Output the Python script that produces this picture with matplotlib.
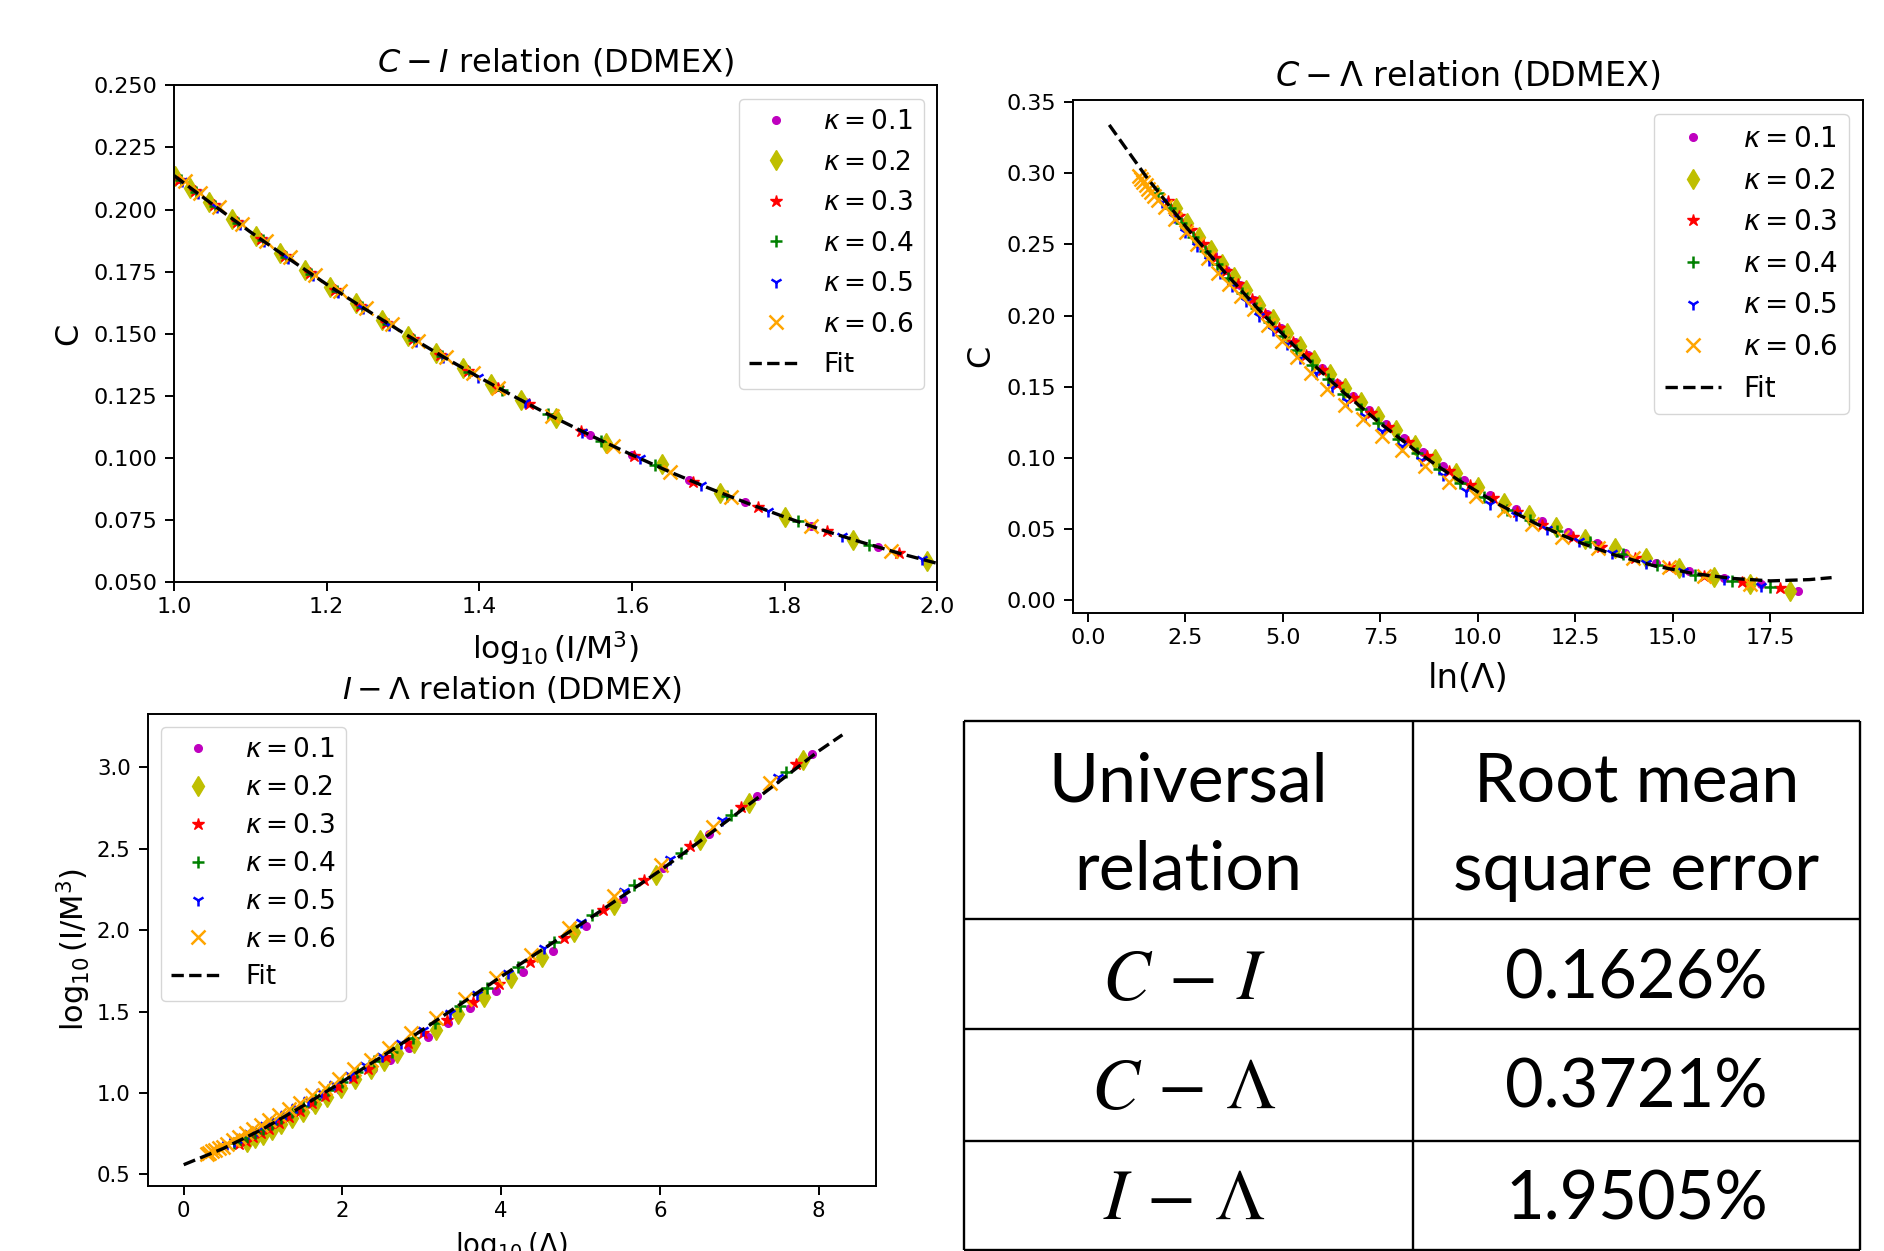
import matplotlib
matplotlib.use('Agg')
import matplotlib.pyplot as plt
from matplotlib.ticker import FormatStrFormatter, MultipleLocator

W, H, DPI = 1884, 1251, 100

# ---------------- data ----------------
kappa_labels = [r'$\kappa=0.1$', r'$\kappa=0.2$', r'$\kappa=0.3$',
                r'$\kappa=0.4$', r'$\kappa=0.5$', r'$\kappa=0.6$']

# Panel 1: C - I   (x = log10(I/M^3), y = C)
ci_x_01 = [1.005, 1.025, 1.05, 1.08, 1.112, 1.143, 1.176, 1.209, 1.242, 1.276, 1.311, 1.347, 1.383, 1.42, 1.46, 1.50, 1.545, 1.60, 1.675, 1.748, 1.835, 1.922]
ci_y_01 = [0.2125, 0.2079, 0.2022, 0.1954, 0.1884, 0.1818, 0.1748, 0.1681, 0.1615, 0.1549, 0.1483, 0.1417, 0.1354, 0.1290, 0.1224, 0.1160, 0.1091, 0.1012, 0.0911, 0.0821, 0.0725, 0.0641]
ci_x_02 = [1.001, 1.021, 1.046, 1.076, 1.108, 1.139, 1.172, 1.205, 1.238, 1.272, 1.307, 1.343, 1.379, 1.415, 1.455, 1.50, 1.566, 1.64, 1.716, 1.80, 1.89, 1.987]
ci_y_02 = [0.2135, 0.2088, 0.2031, 0.1963, 0.1892, 0.1826, 0.1756, 0.1689, 0.1623, 0.1557, 0.1491, 0.1424, 0.1361, 0.1298, 0.1232, 0.1160, 0.1060, 0.0977, 0.0859, 0.0762, 0.0670, 0.0585]
ci_x_03 = [1.007, 1.027, 1.052, 1.082, 1.114, 1.145, 1.178, 1.211, 1.244, 1.278, 1.313, 1.349, 1.385, 1.425, 1.465, 1.533, 1.603, 1.68, 1.765, 1.855, 1.95]
ci_y_03 = [0.2121, 0.2075, 0.2018, 0.1950, 0.1880, 0.1814, 0.1744, 0.1677, 0.1611, 0.1545, 0.1479, 0.1413, 0.1350, 0.1282, 0.1216, 0.1109, 0.1008, 0.0904, 0.0801, 0.0704, 0.0616]
ci_x_04 = [1.009, 1.029, 1.054, 1.084, 1.116, 1.147, 1.18, 1.213, 1.246, 1.28, 1.315, 1.351, 1.387, 1.43, 1.49, 1.56, 1.63, 1.725, 1.817, 1.91]
ci_y_04 = [0.2117, 0.2071, 0.2014, 0.1946, 0.1876, 0.1810, 0.1740, 0.1673, 0.1607, 0.1541, 0.1475, 0.1409, 0.1346, 0.1273, 0.1176, 0.1069, 0.0970, 0.0848, 0.0744, 0.0651]
ci_x_05 = [1.011, 1.031, 1.056, 1.086, 1.118, 1.149, 1.182, 1.215, 1.248, 1.282, 1.317, 1.353, 1.398, 1.46, 1.535, 1.61, 1.69, 1.778, 1.875, 1.98]
ci_y_05 = [0.2113, 0.2067, 0.2010, 0.1942, 0.1872, 0.1806, 0.1736, 0.1669, 0.1603, 0.1537, 0.1471, 0.1405, 0.1327, 0.1224, 0.1106, 0.0998, 0.0892, 0.0786, 0.0685, 0.0591]
ci_x_06 = [1.014, 1.034, 1.059, 1.089, 1.121, 1.152, 1.185, 1.218, 1.251, 1.285, 1.32, 1.356, 1.392, 1.425, 1.495, 1.575, 1.65, 1.73, 1.835, 1.94]
ci_y_06 = [0.2114, 0.2068, 0.2011, 0.1943, 0.1873, 0.1807, 0.1737, 0.1670, 0.1604, 0.1538, 0.1472, 0.1406, 0.1343, 0.1282, 0.1168, 0.1047, 0.0943, 0.0842, 0.0725, 0.0625]
ci_fit_x = [1.00, 1.05, 1.10, 1.15, 1.20, 1.25, 1.30, 1.35, 1.40, 1.45, 1.50, 1.55, 1.60, 1.65, 1.70, 1.75, 1.80, 1.85, 1.90, 1.95, 2.00]
ci_fit_y = [0.2137, 0.2022, 0.1910, 0.1803, 0.1699, 0.1600, 0.1504, 0.1412, 0.1324, 0.1240, 0.1160, 0.1084, 0.1012, 0.0943, 0.0879, 0.0819, 0.0762, 0.0709, 0.0661, 0.0616, 0.0575]

# Panel 2: C - Lambda   (x = ln(Lambda), y = C)
cl_x_01 = [2.5, 2.85, 3.2, 3.55, 3.9, 4.25, 4.6, 4.95, 5.3, 5.65, 6.0, 6.4, 6.8, 7.2, 7.65, 8.1, 8.6, 9.1, 9.65, 10.3, 10.98, 11.65, 12.3, 13.06, 13.78, 14.57, 15.42, 16.3, 17.25, 18.22]
cl_y_01 = [0.2660, 0.2545, 0.2432, 0.2322, 0.2215, 0.2111, 0.2009, 0.1910, 0.1814, 0.1721, 0.1630, 0.1530, 0.1433, 0.1340, 0.1240, 0.1144, 0.1043, 0.0946, 0.0845, 0.0738, 0.0640, 0.0560, 0.0478, 0.0400, 0.0330, 0.0262, 0.0205, 0.0158, 0.0118, 0.0068]
cl_x_02 = [2.25, 2.55, 2.85, 3.15, 3.45, 3.75, 4.05, 4.4, 4.75, 5.1, 5.45, 5.8, 6.2, 6.6, 7.0, 7.45, 7.9, 8.4, 8.9, 9.45, 10.0, 10.66, 11.31, 12.0, 12.74, 13.52, 14.32, 15.17, 16.05, 16.99, 18.0]
cl_y_02 = [0.2755, 0.2654, 0.2555, 0.2458, 0.2363, 0.2271, 0.2180, 0.2077, 0.1976, 0.1879, 0.1784, 0.1692, 0.1590, 0.1491, 0.1396, 0.1294, 0.1196, 0.1093, 0.0995, 0.0894, 0.0800, 0.0681, 0.0598, 0.0519, 0.0431, 0.0367, 0.0296, 0.0228, 0.0162, 0.0114, 0.0066]
cl_x_03 = [2.05, 2.35, 2.65, 2.95, 3.25, 3.55, 3.85, 4.2, 4.55, 4.9, 5.25, 5.6, 6.0, 6.4, 6.8, 7.25, 7.7, 8.2, 8.7, 9.25, 9.8, 10.4, 11.0, 11.65, 12.43, 13.17, 14.04, 14.9, 15.81, 16.77, 17.75]
cl_y_03 = [0.2803, 0.2701, 0.2601, 0.2502, 0.2406, 0.2312, 0.2220, 0.2115, 0.2013, 0.1914, 0.1818, 0.1724, 0.1620, 0.1520, 0.1423, 0.1319, 0.1219, 0.1113, 0.1013, 0.0910, 0.0813, 0.0716, 0.0620, 0.0527, 0.0443, 0.0372, 0.0300, 0.0233, 0.0169, 0.0128, 0.0086]
cl_x_04 = [1.8, 2.1, 2.4, 2.7, 3.0, 3.3, 3.6, 3.95, 4.3, 4.65, 5.0, 5.35, 5.75, 6.15, 6.55, 7.0, 7.45, 7.95, 8.45, 9.0, 9.55, 10.15, 10.75, 11.35, 12.04, 12.87, 13.73, 14.6, 15.56, 16.51, 17.49]
cl_y_04 = [0.2860, 0.2756, 0.2654, 0.2554, 0.2456, 0.2361, 0.2267, 0.2160, 0.2056, 0.1955, 0.1856, 0.1761, 0.1655, 0.1552, 0.1453, 0.1346, 0.1244, 0.1136, 0.1033, 0.0926, 0.0827, 0.0726, 0.0636, 0.0563, 0.0491, 0.0408, 0.0329, 0.0248, 0.0181, 0.0133, 0.0093]
cl_x_05 = [1.9, 2.2, 2.5, 2.8, 3.1, 3.4, 3.7, 4.05, 4.4, 4.75, 5.1, 5.45, 5.85, 6.25, 6.65, 7.1, 7.55, 8.05, 8.55, 9.1, 9.7, 10.3, 10.98, 11.78, 12.6, 13.43, 14.32, 15.25, 16.3, 17.25]
cl_y_05 = [0.2795, 0.2692, 0.2590, 0.2491, 0.2394, 0.2299, 0.2206, 0.2100, 0.1997, 0.1896, 0.1799, 0.1704, 0.1599, 0.1497, 0.1399, 0.1293, 0.1192, 0.1085, 0.0983, 0.0878, 0.0771, 0.0680, 0.0600, 0.0503, 0.0419, 0.0336, 0.0264, 0.0205, 0.0152, 0.0100]
cl_x_06 = [1.30, 1.36, 1.42, 1.48, 1.55, 1.62, 1.70, 1.79, 1.97, 2.24, 2.52, 2.79, 3.07, 3.34, 3.62, 3.94, 4.26, 4.62, 4.99, 5.36, 5.72, 6.14, 6.59, 7.05, 7.55, 8.06, 8.65, 9.25, 9.94, 10.67, 11.4, 12.17, 13.09, 13.99, 14.9, 15.81, 16.99]
cl_y_06 = [0.2982, 0.2960, 0.2939, 0.2917, 0.2893, 0.2868, 0.2840, 0.2813, 0.2766, 0.2678, 0.2590, 0.2503, 0.2402, 0.2302, 0.2226, 0.2138, 0.2050, 0.1937, 0.1824, 0.1711, 0.1598, 0.1485, 0.1372, 0.1271, 0.1158, 0.1058, 0.0945, 0.0832, 0.0731, 0.0633, 0.0538, 0.0443, 0.0367, 0.0300, 0.0233, 0.0169, 0.0114]
cl_fit_x = [0.55, 1.5, 2.5, 3.5, 4.5, 5.5, 6.5, 7.5, 8.5, 9.5, 10.5, 11.5, 12.5, 13.5, 14.5, 15.5, 16.5, 17.5, 18.5, 19.07]
cl_fit_y = [0.3340, 0.2975, 0.2630, 0.2308, 0.2008, 0.1730, 0.1475, 0.1243, 0.1033, 0.0845, 0.0680, 0.0538, 0.0418, 0.0320, 0.0245, 0.0190, 0.0155, 0.0137, 0.0146, 0.0160]

# Panel 3: I - Lambda   (x = log10(Lambda), y = log10(I/M^3))
il_x_01 = [0.9, 1.0, 1.1, 1.22, 1.35, 1.49, 1.64, 1.8, 1.97, 2.16, 2.39, 2.60, 2.84, 3.08, 3.33, 3.61, 3.93, 4.27, 4.65, 5.07, 5.54, 6.04, 6.62, 7.23, 7.92]
il_y_01 = [0.716, 0.740, 0.768, 0.802, 0.838, 0.877, 0.922, 0.970, 1.021, 1.080, 1.145, 1.203, 1.279, 1.346, 1.432, 1.520, 1.627, 1.742, 1.875, 2.023, 2.193, 2.385, 2.590, 2.822, 3.084]
il_x_02 = [0.8, 0.9, 1.0, 1.11, 1.23, 1.36, 1.5, 1.65, 1.81, 1.98, 2.16, 2.36, 2.52, 2.69, 2.90, 3.18, 3.46, 3.78, 4.13, 4.51, 4.92, 5.42, 5.95, 6.51, 7.125, 7.81]
il_y_02 = [0.697, 0.721, 0.745, 0.776, 0.809, 0.846, 0.885, 0.930, 0.978, 1.029, 1.085, 1.147, 1.196, 1.244, 1.305, 1.387, 1.486, 1.592, 1.705, 1.838, 1.988, 2.156, 2.340, 2.555, 2.781, 3.047]
il_x_03 = [0.7, 0.78, 0.87, 0.97, 1.08, 1.2, 1.33, 1.47, 1.62, 1.78, 1.95, 2.13, 2.32, 2.55, 2.83, 3.02, 3.32, 3.64, 3.97, 4.36, 4.79, 5.28, 5.80, 6.38, 7.02, 7.71]
il_y_03 = [0.688, 0.707, 0.729, 0.753, 0.782, 0.816, 0.852, 0.892, 0.936, 0.984, 1.035, 1.090, 1.149, 1.221, 1.310, 1.367, 1.449, 1.561, 1.670, 1.803, 1.955, 2.125, 2.309, 2.520, 2.756, 3.020]
il_x_04 = [0.63, 0.71, 0.8, 0.9, 1.0, 1.11, 1.23, 1.36, 1.5, 1.65, 1.82, 2.0, 2.19, 2.4, 2.63, 2.89, 3.17, 3.48, 3.82, 4.21, 4.67, 5.15, 5.68, 6.27, 6.90, 7.59]
il_y_04 = [0.691, 0.710, 0.732, 0.756, 0.780, 0.811, 0.844, 0.881, 0.920, 0.965, 1.016, 1.070, 1.129, 1.194, 1.254, 1.336, 1.428, 1.535, 1.643, 1.777, 1.930, 2.094, 2.279, 2.477, 2.709, 2.969]
il_x_05 = [0.55, 0.63, 0.72, 0.82, 0.92, 1.03, 1.15, 1.28, 1.42, 1.57, 1.73, 1.9, 2.09, 2.29, 2.50, 2.74, 3.02, 3.35, 3.70, 4.09, 4.54, 5.01, 5.55, 6.13, 6.78, 7.49]
il_y_05 = [0.687, 0.706, 0.728, 0.752, 0.776, 0.803, 0.837, 0.873, 0.913, 0.956, 1.004, 1.055, 1.113, 1.175, 1.227, 1.305, 1.387, 1.490, 1.607, 1.736, 1.889, 2.053, 2.238, 2.436, 2.678, 2.941]
il_x_06 = [0.29, 0.32, 0.36, 0.40, 0.45, 0.50, 0.55, 0.62, 0.70, 0.78, 0.87, 0.97, 1.08, 1.2, 1.33, 1.47, 1.62, 1.78, 1.96, 2.15, 2.36, 2.59, 2.87, 3.18, 3.55, 3.94, 4.375, 4.86, 5.42, 6.01, 6.67, 7.39]
il_y_06 = [0.628, 0.634, 0.642, 0.650, 0.660, 0.670, 0.685, 0.709, 0.733, 0.755, 0.779, 0.803, 0.832, 0.866, 0.902, 0.942, 0.986, 1.034, 1.088, 1.147, 1.203, 1.279, 1.367, 1.459, 1.576, 1.705, 1.848, 2.012, 2.211, 2.402, 2.637, 2.904]
il_fit_x = [0.0, 0.5, 1.0, 1.5, 2.0, 2.5, 3.0, 3.5, 4.0, 4.5, 5.0, 5.5, 6.0, 6.5, 7.0, 7.5, 8.0, 8.3]
il_fit_y = [0.56, 0.66, 0.78, 0.92, 1.07, 1.225, 1.385, 1.55, 1.715, 1.875, 2.035, 2.20, 2.365, 2.545, 2.727, 2.912, 3.10, 3.20]

# Table
table_header = [['Universal', 'relation'], ['Root mean', 'square error']]
table_relations = [r'$C\,-\,I$', r'$C\,-\,\Lambda$', r'$I\,-\,\Lambda$']
table_rmse = ['0.1626%', '0.3721%', '1.9505%']

# ---------------- style ----------------
plt.rcParams['font.family'] = ['DejaVu Sans']
plt.rcParams['axes.linewidth'] = 1.4
plt.rcParams['mathtext.fontset'] = 'dejavusans'

series_styles = [
    dict(marker='o', color='m', ms=5.5, mew=1.0),
    dict(marker='d', color='y', ms=10.5, mew=1.0),
    dict(marker='*', color='r', ms=9, mew=1.0),
    dict(marker='+', color='g', ms=9, mew=1.8),
    dict(marker='1', color='b', ms=9, mew=1.8),
    dict(marker='x', color='orange', ms=9.5, mew=1.8),
]

fig = plt.figure(figsize=(W / DPI, H / DPI), dpi=DPI)


def px_axes(l, t, r, b):
    return fig.add_axes([l / W, 1 - b / H, (r - l) / W, (b - t) / H])


def draw_panel(ax, xs, ys, fx, fy, tick_fs, leg_fs, leg_loc, leg_sp):
    for x, y, lab, st in zip(xs, ys, kappa_labels, series_styles):
        ax.plot(x, y, linestyle='none', label=lab, **st)
    ax.plot(fx, fy, 'k--', lw=2.4, label='Fit')
    ax.tick_params(axis='both', which='major', labelsize=tick_fs,
                   length=6.2, width=1.4)
    ax.tick_params(axis='x', pad=4.7)
    ax.tick_params(axis='y', pad=6)
    ax.legend(loc=leg_loc, fontsize=leg_fs, labelspacing=leg_sp)


# Panel 1
ax1 = px_axes(174, 85.4, 937.2, 582)
draw_panel(ax1, [ci_x_01, ci_x_02, ci_x_03, ci_x_04, ci_x_05, ci_x_06],
           [ci_y_01, ci_y_02, ci_y_03, ci_y_04, ci_y_05, ci_y_06],
           ci_fit_x, ci_fit_y, 16, 19, 'upper right', 0.55)
ax1.set_xlim(1.0, 2.0)
ax1.set_ylim(0.05, 0.25)
ax1.xaxis.set_major_locator(MultipleLocator(0.2))
ax1.yaxis.set_major_locator(MultipleLocator(0.025))
ax1.xaxis.set_major_formatter(FormatStrFormatter('%.1f'))
ax1.yaxis.set_major_formatter(FormatStrFormatter('%.3f'))
ax1.set_title(r'$C-I$ relation (DDMEX)', fontsize=23, pad=10)
ax1.set_xlabel(r'$\log_{10}$(I/M$^3$)', fontsize=22.5, labelpad=9)
ax1.set_ylabel('C', fontsize=23, labelpad=6)

# Panel 2
ax2 = px_axes(1073, 100, 1862.8, 612.5)
draw_panel(ax2, [cl_x_01, cl_x_02, cl_x_03, cl_x_04, cl_x_05, cl_x_06],
           [cl_y_01, cl_y_02, cl_y_03, cl_y_04, cl_y_05, cl_y_06],
           cl_fit_x, cl_fit_y, 16, 20, 'upper right', 0.49)
ax2.set_xlim(-0.38, 19.87)
ax2.set_ylim(-0.0085, 0.3515)
ax2.xaxis.set_major_locator(MultipleLocator(2.5))
ax2.yaxis.set_major_locator(MultipleLocator(0.05))
ax2.xaxis.set_major_formatter(FormatStrFormatter('%.1f'))
ax2.yaxis.set_major_formatter(FormatStrFormatter('%.2f'))
ax2.set_title(r'$C-\Lambda$ relation (DDMEX)', fontsize=24, pad=10.3)
ax2.set_xlabel('ln(Λ)', fontsize=24.5, labelpad=10.5)
ax2.set_ylabel('C', fontsize=23, labelpad=7)

# Panel 3
ax3 = px_axes(147.6, 713.5, 875.7, 1186.2)
draw_panel(ax3, [il_x_01, il_x_02, il_x_03, il_x_04, il_x_05, il_x_06],
           [il_y_01, il_y_02, il_y_03, il_y_04, il_y_05, il_y_06],
           il_fit_x, il_fit_y, 15.3, 19, 'upper left', 0.45)
ax3.set_xlim(-0.455, 8.72)
ax3.set_ylim(0.428, 3.331)
ax3.xaxis.set_major_locator(MultipleLocator(2))
ax3.yaxis.set_major_locator(MultipleLocator(0.5))
ax3.yaxis.set_major_formatter(FormatStrFormatter('%.1f'))
ax3.set_title(r'$I-\Lambda$ relation (DDMEX)', fontsize=22, pad=10.4)
ax3.set_xlabel(r'$\log_{10}$(Λ)', fontsize=20, labelpad=6.5)
ax3.set_ylabel(r'$\log_{10}$(I/M$^3$)', fontsize=22, labelpad=3)

# Table (drawn in a full-figure overlay in pixel coordinates)
tab = fig.add_axes([0, 0, 1, 1])
tab.set_xlim(0, W)
tab.set_ylim(H, 0)
tab.axis('off')
col_edges = [964, 1412.6, 1860]
row_edges = [721, 918.6, 1028.5, 1141, 1249.5]
tab.vlines(col_edges, row_edges[0], row_edges[-1], colors='black', lw=1.7)
tab.hlines(row_edges, col_edges[0], col_edges[-1], colors='black', lw=1.7)
col_cx = [(col_edges[0] + col_edges[1]) / 2, (col_edges[1] + col_edges[2]) / 2]
header_baselines = [802, 889.7]
for cx, lines in zip(col_cx, table_header):
    for yb, line in zip(header_baselines, lines):
        tab.text(cx, yb, line, family='Lato', fontsize=49,
                 ha='center', va='baseline')
row_baselines = [998.7, 1107.6, 1219.3]
for yb, rel, val in zip(row_baselines, table_relations, table_rmse):
    tab.text(col_cx[0] - 4, yb, rel, fontsize=51.5, math_fontfamily='stix',
             ha='center', va='baseline')
    tab.text(col_cx[1], yb, val, family='Lato', fontsize=48,
             ha='center', va='baseline')

fig.savefig('out.png', dpi=DPI, facecolor='white')
